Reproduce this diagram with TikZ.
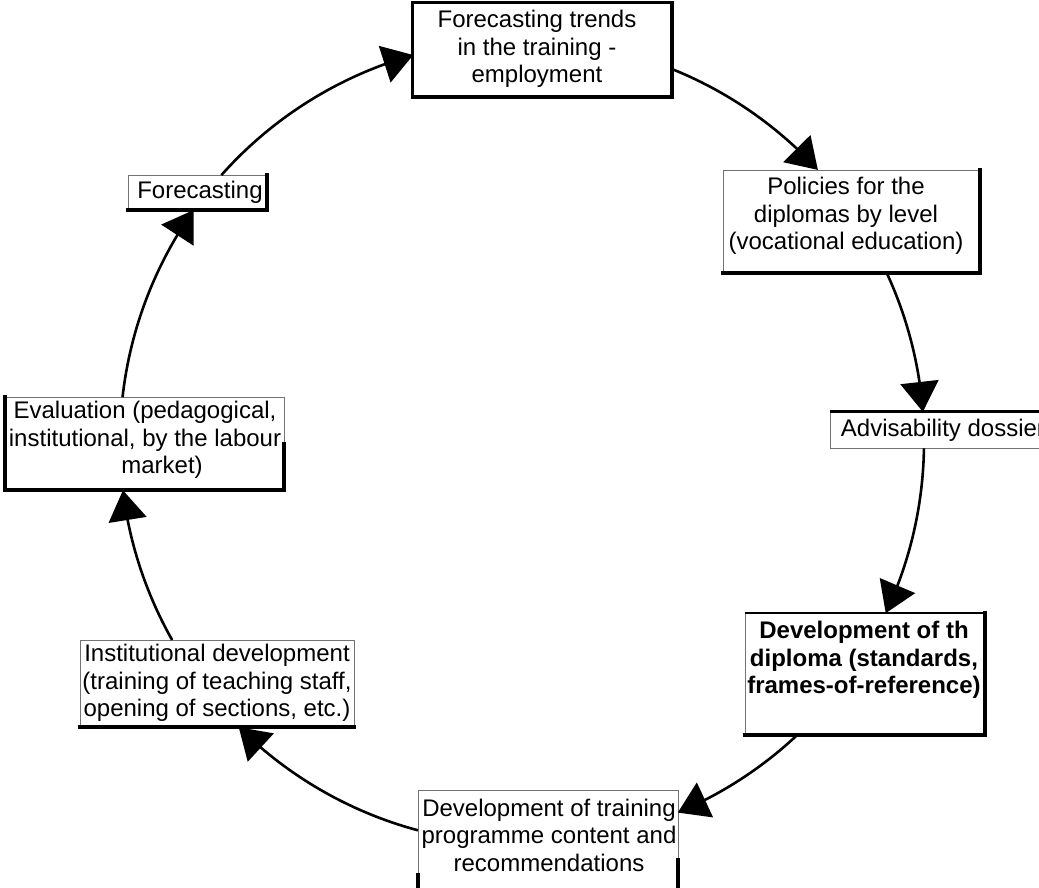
\documentclass[tikz,border=0pt]{standalone}
\usepackage{fontspec}
\setmainfont{Liberation Sans}
\usetikzlibrary{arrows.meta,bending}
\begin{document}
\begin{tikzpicture}[x=1pt,y=-1pt,
  box/.style={draw=black!55, line width=0.9pt, inner sep=0pt, fill=white},
  txt/.style={align=center, inner sep=0pt, font=\fontsize{24}{27.5}\selectfont},
  heavy/.style={line width=4pt, line cap=rect},
  conn/.style={line width=2.6pt, -{Triangle[width=38pt,length=30pt]}}]
\useasboundingbox (0,0) rectangle (1039,887);
\clip (0,0) rectangle (1039,887);
\fill[white] (0,0) rectangle (1039,887);

% boxes
\node[box, minimum width=259pt, minimum height=94pt] (b1) at (542.5,50) {};
\node[box, minimum width=257pt, minimum height=103pt] (b2) at (851.5,221.5) {};
\node[box, minimum width=226pt, minimum height=36pt] (b3) at (943,430) {};
\node[box, minimum width=240pt, minimum height=122pt] (b4) at (865,674) {};
\node[box, minimum width=260pt, minimum height=110pt] (b5) at (548,845) {};
\node[box, minimum width=274pt, minimum height=87pt] (b6) at (217,683.5) {};
\node[box, minimum width=279pt, minimum height=93pt] (b7) at (144.5,443.5) {};
\node[box, minimum width=139pt, minimum height=35pt] (b8) at (197.5,192.5) {};

% heavy shadow edges
\draw[line width=3pt] (b1.south west) -- (b1.north west) -- (b1.north east);
\draw[heavy] (b1.north east) -- (b1.south east) -- (b1.south west);
\draw[heavy] (b2.north east) -- (b2.south east) -- (b2.south west);
\draw[line width=3pt] (b3.north west) -- (b3.north east);
\draw[line width=2pt] (b4.north west) -- (b4.north east);
\draw[heavy] (b4.north east) -- (b4.south east) -- (b4.south west);
\draw[heavy] (b5.south west) -- ++(0,-25);
\draw[heavy] (b5.south east) -- ++(0,-40);
\draw[heavy] (b6.south west) -- (b6.south east);
\draw[heavy] (b7.north west) -- (b7.south west) -- (b7.south east) -- (b7.east);
\draw[heavy] (b8.north east) -- (b8.south east) -- (b8.south west);

% texts
\node[txt] (t1) at (537,49) {Forecasting trends\\in the training -\\employment};
\node[txt] (t2) at (846,216) {Policies for the\\diplomas by level\\(vocational education)};
\node[txt] (t3) at (943,430) {Advisability dossier};
\node[txt, font=\fontsize{24}{27.5}\selectfont\bfseries] (t4) at (864,660) {Development of th\\diploma (standards,\\frames-of-reference)};
\node[txt] (t5) at (549,835) {Development of training\\programme content and\\recommendations};
\node[txt] (t6) at (217,683) {Institutional development\\(training of teaching staff,\\opening of sections, etc.)};
\node[txt] (t7) at (145,440) {Evaluation (pedagogical,\\institutional, by the labour\\\hspace*{34pt}market)};
\node[txt] (t8) at (200,192) {Forecasting};

% cycle connectors along a circle
\coordinate (O) at (522,442);
\path (O) ++(-68.1:402) coordinate (s1);
\path (O) ++(-24.9:402) coordinate (s2);
\path (O) ++(0.9:402) coordinate (s3);
\path (O) ++(46.8:402) coordinate (s4);
\path (O) ++(105.0:402) coordinate (s5);
\path (O) ++(150.5:402) coordinate (s6);
\path (O) ++(186.4:402) coordinate (s7);
\path (O) ++(221.6:402) coordinate (s8);
\draw[conn] (s1) arc[start angle=-68.1, end angle=-42.6, radius=402];
\draw[conn] (s2) arc[start angle=-24.9, end angle=-4.3, radius=402];
\draw[conn] (s3) arc[start angle=0.9, end angle=25.2, radius=402];
\draw[conn] (s4) arc[start angle=46.8, end angle=67.2, radius=402];
\draw[conn] (s5) arc[start angle=105.0, end angle=134.8, radius=402];
\draw[conn] (s6) arc[start angle=150.5, end angle=173.1, radius=402];
\draw[conn] (s7) arc[start angle=186.4, end angle=215.25, radius=402];
\draw[conn] (s8) arc[start angle=221.6, end angle=254.3, radius=402];
\end{tikzpicture}
\end{document}
